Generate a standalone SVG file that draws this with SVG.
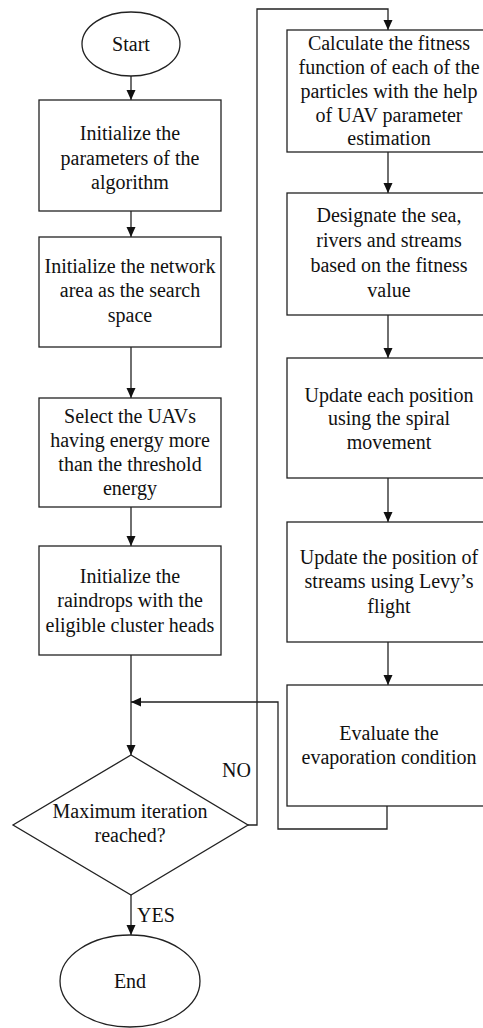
<svg xmlns="http://www.w3.org/2000/svg" width="483" height="1028" viewBox="0 0 483 1028">
<style>
.n{fill:#fff;stroke:#222;stroke-width:1.3}
.t{font-family:"Liberation Serif",Tinos,"Noto Serif","DejaVu Serif",Times,FreeSerif,Georgia,serif;font-size:20px;fill:#111;text-anchor:middle}
.l{font-family:"Liberation Serif",Tinos,"Noto Serif","DejaVu Serif",Times,FreeSerif,Georgia,serif;font-size:20px;fill:#111}
.c{fill:none;stroke:#222;stroke-width:1.3}
</style>
<defs>
<marker id="ah" markerUnits="userSpaceOnUse" markerWidth="10" markerHeight="10" refX="10" refY="5" orient="auto">
<path d="M0,0.5 L10,5 L0,9.5 z" fill="#111"/>
</marker>
</defs>
<rect width="483" height="1028" fill="#fff"/>
<g id="connectors">
<path class="c" d="M131,76 V100" marker-end="url(#ah)"/>
<path class="c" d="M131,211 V237" marker-end="url(#ah)"/>
<path class="c" d="M131,347 V398" marker-end="url(#ah)"/>
<path class="c" d="M131,507 V546" marker-end="url(#ah)"/>
<path class="c" d="M131,655 V755" marker-end="url(#ah)"/>
<path class="c" d="M131,895 V935" marker-end="url(#ah)"/>
<path class="c" d="M248,825 H257 V9 H388 V30" marker-end="url(#ah)"/>
<path class="c" d="M388,152 V193" marker-end="url(#ah)"/>
<path class="c" d="M388,315 V358" marker-end="url(#ah)"/>
<path class="c" d="M388,478 V522" marker-end="url(#ah)"/>
<path class="c" d="M388,642 V685" marker-end="url(#ah)"/>
<path class="c" d="M387,806 V829 H278 V702 H131" marker-end="url(#ah)"/>
<text class="l" x="222" y="777">NO</text>
<text class="l" x="137" y="922">YES</text>
</g>
<g id="start">
<ellipse class="n" cx="131" cy="44" rx="49" ry="32"/>
<text class="t" x="131" y="51">Start</text>
</g>
<g id="init-params">
<rect class="n" x="39" y="100" width="182" height="111"/>
<text class="t" x="130" y="140">Initialize the</text>
<text class="t" x="130" y="165">parameters of the</text>
<text class="t" x="130" y="189">algorithm</text>
</g>
<g id="init-area">
<rect class="n" x="39" y="237" width="182" height="110"/>
<text class="t" x="130" y="273">Initialize the network</text>
<text class="t" x="130" y="297">area as the search</text>
<text class="t" x="130" y="322">space</text>
</g>
<g id="select-uavs">
<rect class="n" x="39" y="398" width="182" height="109"/>
<text class="t" x="130" y="423">Select the UAVs</text>
<text class="t" x="130" y="447">having energy more</text>
<text class="t" x="130" y="471">than the threshold</text>
<text class="t" x="130" y="495">energy</text>
</g>
<g id="init-raindrops">
<rect class="n" x="39" y="546" width="182" height="109"/>
<text class="t" x="130" y="583">Initialize the</text>
<text class="t" x="130" y="607">raindrops with the</text>
<text class="t" x="130" y="632">eligible cluster heads</text>
</g>
<g id="decision">
<polygon class="n" points="131,755 248,825 131,895 13,825"/>
<text class="t" x="130" y="818">Maximum iteration</text>
<text class="t" x="130" y="842">reached?</text>
</g>
<g id="end">
<ellipse class="n" cx="130" cy="981" rx="70" ry="46"/>
<text class="t" x="130" y="988">End</text>
</g>
<g id="fitness">
<rect class="n" x="287" y="30" width="204" height="122"/>
<text class="t" x="389" y="50">Calculate the fitness</text>
<text class="t" x="389" y="74">function of each of the</text>
<text class="t" x="389" y="98">particles with the help</text>
<text class="t" x="389" y="122">of UAV parameter</text>
<text class="t" x="389" y="145">estimation</text>
</g>
<g id="designate">
<rect class="n" x="287" y="193" width="204" height="122"/>
<text class="t" x="389" y="222">Designate the sea,</text>
<text class="t" x="389" y="247">rivers and streams</text>
<text class="t" x="389" y="272">based on the fitness</text>
<text class="t" x="389" y="297">value</text>
</g>
<g id="update-spiral">
<rect class="n" x="287" y="358" width="204" height="120"/>
<text class="t" x="389" y="402">Update each position</text>
<text class="t" x="389" y="425">using the spiral</text>
<text class="t" x="389" y="449">movement</text>
</g>
<g id="update-levy">
<rect class="n" x="287" y="522" width="204" height="120"/>
<text class="t" x="389" y="564">Update the position of</text>
<text class="t" x="389" y="588">streams using Levy’s</text>
<text class="t" x="389" y="613">flight</text>
</g>
<g id="evaporation">
<rect class="n" x="287" y="685" width="204" height="121"/>
<text class="t" x="389" y="740">Evaluate the</text>
<text class="t" x="389" y="764">evaporation condition</text>
</g>
</svg>
